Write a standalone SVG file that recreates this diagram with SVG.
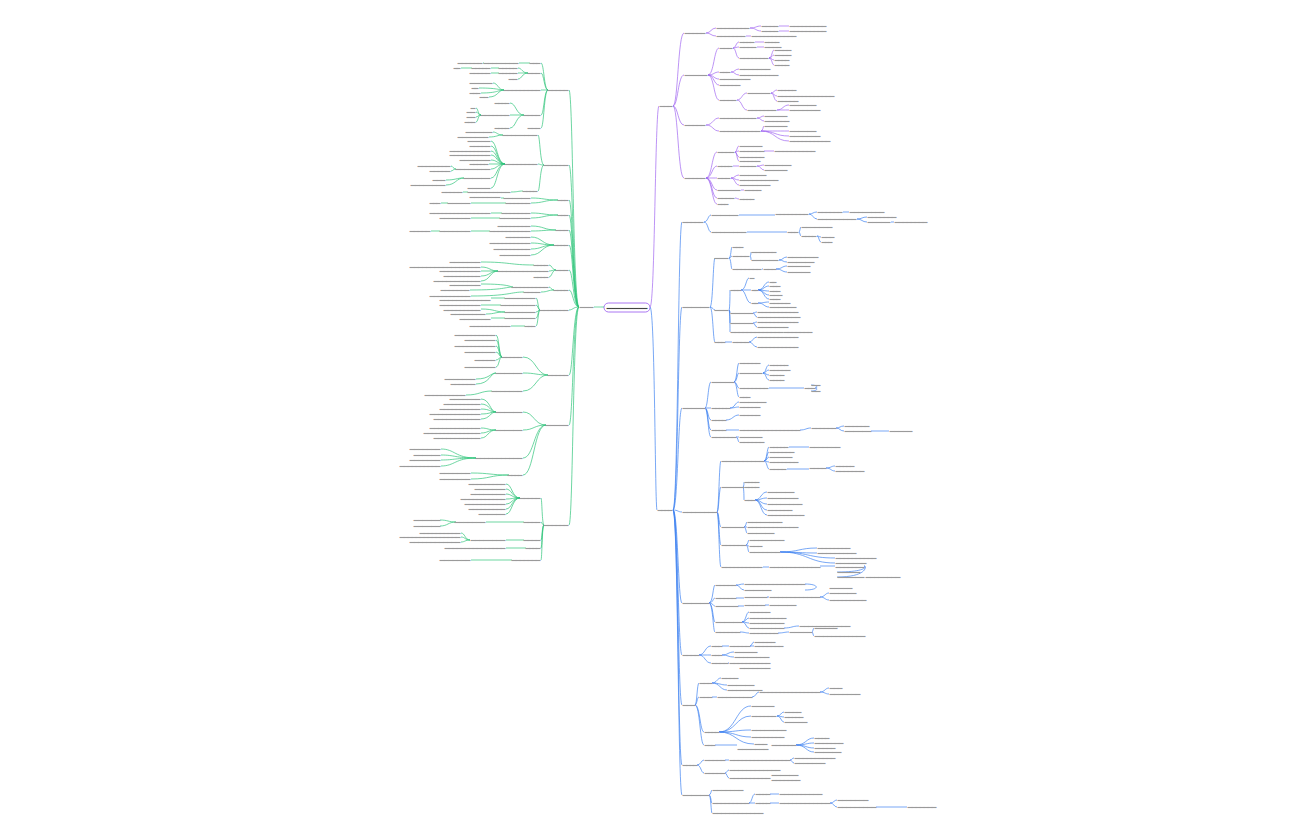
<svg xmlns="http://www.w3.org/2000/svg" width="1296" height="840" viewBox="0 0 1296 840">
<style>
path{fill:none;stroke-width:0.7}
.p path,path.p{stroke:#a066f0}
.b path,path.b{stroke:#3f83f0}
.g path,path.g{stroke:#2fc47a}
text{font-family:"Liberation Sans",sans-serif;font-size:4px;fill:#8a8a8a;stroke:#9a9a9a;stroke-width:0.9}
.l text{text-anchor:end}
</style>
<rect width="1296" height="840" fill="#fff"/>
<g id="center"><rect x="604" y="303" width="46" height="9" rx="4.5" fill="#fff" stroke="#a066f0" stroke-width="0.9"/><text x="627" y="309" text-anchor="middle" textLength="40" style="fill:#333;stroke:#444">—————————</text></g>
<g id="connectors">
<path class="p" d="M650 307 C655 307 655 106 659 106"/>
<path class="b" d="M650 307 C655 307 655 510 657 510"/>
<path class="g" d="M604 307 C598 307 598 307 594 307"/>
<g class="p">
<path d="M673 106C678 106 678 33 684 33M673 106C678 106 678 75 684 75M673 106C678 106 678 125 684 125M673 106C678 106 678 178 684 178"/>
<path d="M706 33C711 33 711 28 716 28M706 33C711 33 711 36 716 36M750 28C756 28 756 26 761 26M750 28C756 28 756 31 761 31M779 26H789M779 31H789M746 36H751"/>
<path d="M708 75C714 75 714 48 719 48M708 75C714 75 714 72 719 72M708 75C714 75 714 79 719 79M708 75C714 75 714 85 719 85M708 75C714 75 714 100 719 100"/>
<path d="M733 48C736 48 736 42 739 42M733 48C736 48 736 47 739 47M733 48C736 48 736 58 739 58M755 42H764M757 47H764M769 58C772 58 772 50 774 50M769 58C772 58 772 55 774 55M769 58C772 58 772 60 774 60M769 58C772 58 772 65 774 65"/>
<path d="M731 72C735 72 735 69 739 69M731 72C735 72 735 75 739 75M737 100C742 100 742 93 747 93M737 100C742 100 742 110 747 110M771 93C774 93 774 90 777 90M771 93C774 93 774 96 777 96M771 93C774 93 774 101 777 101M777 110C783 110 783 105 789 105M777 110C783 110 783 110 789 110"/>
<path d="M706 125C713 125 713 118 719 118M706 125C713 125 713 131 719 131M757 118C761 118 761 116 764 116M757 118C761 118 761 121 764 121M761 131C763 131 763 126 764 126M761 131C775 131 775 131 789 131M761 131C775 131 775 136 789 136M761 131C775 131 775 141 789 141"/>
<path d="M706 178C712 178 712 152 717 152M706 178C712 178 712 166 717 166M706 178C712 178 712 178 717 178M706 178C712 178 712 190 717 190M706 178C712 178 712 198 717 198M706 178C712 178 712 204 717 204"/>
<path d="M735 152C737 152 737 146 739 146M735 152C737 152 737 151 739 151M735 152C737 152 737 157 739 157M735 152C737 152 737 161 739 161M764 151H774M733 166H739M757 166C761 166 761 165 764 165M757 166C761 166 761 170 764 170M731 178C735 178 735 175 739 175M731 178C735 178 735 180 739 180M731 178C735 178 735 185 739 185M741 190H744M735 198C737 198 737 199 739 199"/>
</g>
<g class="b">
<path d="M673 510C678 510 678 222 682 222M673 510C678 510 678 307 682 307M673 510C678 510 678 408 682 408M673 510C678 510 678 512 682 512M673 510C678 510 678 603 682 603M673 510C678 510 678 655 682 655M673 510C678 510 678 705 682 705M673 510C678 510 678 765 682 765M673 510C678 510 678 795 682 795"/>
<path d="M704 222C708 222 708 215 711 215M704 222C708 222 708 232 711 232M739 215H775M809 214C813 214 813 212 817 212M809 214C813 214 813 219 817 219M843 212H849M857 219C862 219 862 217 867 217M857 219C862 219 862 222 867 222M891 222H894M747 232H787M799 232C800 232 800 227 801 227M799 232C800 232 800 236 801 236M817 236C819 236 819 237 821 237M817 236C819 236 819 242 821 242"/>
<path d="M710 307C713 307 713 258 715 258M710 307C713 307 713 310 715 310M710 307C713 307 713 342 715 342"/>
<path d="M729 258C731 258 731 247 732 247M729 258C731 258 731 256 732 256M729 258C731 258 731 269 732 269M750 256C751 256 751 252 751 252M750 256C751 256 751 260 751 260M779 260C783 260 783 257 787 257M779 260C783 260 783 262 787 262M762 269H763M776 269C782 269 782 266 787 266M776 269C782 269 782 272 787 272"/>
<path d="M729 310C730 310 730 290 730 290M729 310C730 310 730 313 730 313M729 310C730 310 730 323 730 323M729 310C730 310 730 332 730 332M741 290C746 290 746 278 749 278M741 290C746 290 746 290 751 290M741 290C746 290 746 303 751 303M758 290C764 290 764 282 769 282M758 290C764 290 764 286 769 286M758 290C764 290 764 291 769 291M758 290C764 290 764 295 769 295M758 290C764 290 764 299 769 299M758 303C764 303 764 302 769 302M758 303C764 303 764 307 769 307"/>
<path d="M753 313C755 313 755 312 757 312M753 313C755 313 755 317 757 317M753 323C755 323 755 322 757 322M753 323C755 323 755 327 757 327M725 342H732M749 342C753 342 753 337 757 337M749 342C753 342 753 347 757 347"/>
<path d="M705 408C708 408 708 382 711 382M705 408C708 408 708 408 711 408M705 408C708 408 708 420 711 420M705 408C708 408 708 430 711 430M705 408C708 408 708 437 711 437"/>
<path d="M734 382C737 382 737 363 739 363M734 382C737 382 737 373 739 373M734 382C737 382 737 388 739 388M734 382C737 382 737 397 739 397M763 373C766 373 766 365 769 365M763 373C766 373 766 370 769 370M763 373C766 373 766 375 769 375M763 373C766 373 766 380 769 380M769 388H804M815 388C818 388 818 385 811 385M815 388C818 388 818 391 811 391"/>
<path d="M730 408C735 408 735 402 739 402M730 408C735 408 735 407 739 407M726 420C733 420 733 415 739 415M726 430H739M800 430C806 430 806 428 811 428M836 428C840 428 840 426 844 426M836 428C840 428 840 431 844 431M871 431H889M736 437C738 437 738 437 739 437M736 437C738 437 738 442 739 442"/>
<path d="M717 512C719 512 719 461 721 461M717 512C719 512 719 487 721 487M717 512C719 512 719 527 721 527M717 512C719 512 719 545 721 545M717 512C719 512 719 567 721 567"/>
<path d="M764 461C767 461 767 447 769 447M764 461C767 461 767 452 769 452M764 461C767 461 767 457 769 457M764 461C767 461 767 462 769 462M764 461C767 461 767 469 769 469M789 447H809M787 469H809M826 468C831 468 831 466 835 466M826 468C831 468 831 471 835 471"/>
<path d="M743 487C744 487 744 482 744 482M743 487H744M743 487C744 487 744 500 744 500M755 500C761 500 761 492 767 492M755 500C761 500 761 498 767 498M755 500C761 500 761 504 767 504M755 500C761 500 761 510 767 510M755 500C761 500 761 515 767 515"/>
<path d="M744 527C746 527 746 522 747 522M744 527H747M744 527C746 527 746 533 747 533M746 545C748 545 748 540 749 540M746 545C748 545 748 546 749 546M746 545C748 545 748 552 749 552M780 552C799 552 799 548 817 548M780 552C799 552 799 553 817 553M780 552C808 552 808 558 835 558M780 552C808 552 808 563 835 563"/>
<path d="M763 567H769M820 566H835M864 566C867 566 867 572 837 572M864 566C867 566 867 577 837 577"/>
<path d="M709 603C713 603 713 585 715 585M709 603C713 603 713 598 715 598M709 603C713 603 713 606 715 606M709 603C713 603 713 622 715 622M709 603C713 603 713 632 715 632"/>
<path d="M736 585C740 585 740 584 744 584M736 585C740 585 740 590 744 590M805 584C820 584 820 590 805 590M736 598H744M767 597H769M820 597C825 597 825 593 829 593M820 597C825 597 825 600 829 600M738 606H744M765 605H769"/>
<path d="M742 622C746 622 746 612 749 612M742 622C746 622 746 618 749 618M742 622C746 622 746 623 749 623M742 622C746 622 746 628 749 628M784 628C792 628 792 626 799 626M740 632C745 632 745 633 749 633M778 633C784 633 784 632 789 632M812 632C813 632 813 628 814 628M812 632C813 632 813 636 814 636"/>
<path d="M699 655C705 655 705 646 711 646M699 655C705 655 705 655 711 655M699 655C705 655 705 663 711 663M722 646H729M750 646C752 646 752 642 754 642M750 646C752 646 752 646 754 646M722 655C728 655 728 652 734 652M722 655C728 655 728 657 734 657M728 663H729"/>
<path d="M695 705C697 705 697 683 699 683M695 705C697 705 697 697 699 697M695 705C700 705 700 732 704 732M695 705C700 705 700 745 704 745"/>
<path d="M712 683C717 683 717 678 721 678M712 683C720 683 720 685 727 685M712 683C720 683 720 690 727 690M712 697H717M752 697C756 697 756 692 759 692M820 692C825 692 825 688 829 688M820 692C825 692 825 694 829 694"/>
<path d="M719 732C736 732 736 706 751 706M719 732C736 732 736 716 751 716M719 732C736 732 736 730 751 730M719 732C736 732 736 737 751 737M719 732C736 732 736 744 754 744M777 716C781 716 781 712 784 712M777 716C781 716 781 717 784 717M777 716C781 716 781 722 784 722"/>
<path d="M715 745H737M796 745C806 745 806 738 814 738M796 745C806 745 806 743 814 743M796 745C806 745 806 748 814 748M796 745C806 745 806 752 814 752"/>
<path d="M697 765C701 765 701 760 704 760M697 765C701 765 701 773 704 773M725 760H729M790 760C792 760 792 758 794 758M790 760C792 760 792 763 794 763M725 773C727 773 727 770 729 770M725 773C727 773 727 778 729 778"/>
<path d="M709 795C711 795 711 790 712 790M709 795C711 795 711 803 712 803M709 795C711 795 711 813 712 813M749 803C752 803 752 794 755 794M749 803C752 803 752 803 755 803M770 794H779M770 803H779M830 803C834 803 834 800 837 800M830 803C834 803 834 807 837 807M876 807H907"/>
</g>
<g class="g">
<path d="M579 307C573 307 573 90 569 90M579 307C573 307 573 165 569 165M579 307C573 307 573 200 569 200M579 307C573 307 573 215 569 215M579 307C573 307 573 230 569 230M579 307C573 307 573 245 569 245M579 307C573 307 573 270 569 270M579 307C573 307 573 290 569 290M579 307C573 307 573 310 569 310M579 307C573 307 573 375 569 375M579 307C573 307 573 425 569 425M579 307C573 307 573 525 569 525"/>
<path d="M548 90C544 90 544 63 541 63M548 90C544 90 544 73 541 73M548 90C544 90 544 90 541 90M548 90C544 90 544 115 541 115M548 90C544 90 544 128 541 128M530 63H519M484 63H483M528 73C522 73 522 68 518 68M528 73C522 73 522 73 518 73M528 73C522 73 522 79 518 79M499 68H491M472 68H461M499 73H491"/>
<path d="M504 90C498 90 498 83 493 83M504 90C498 90 498 88 479 88M504 90C498 90 498 93 481 93M504 90C498 90 498 97 489 97M524 115C516 115 516 103 510 103M524 115H510M524 115C516 115 516 128 510 128M481 115C478 115 478 108 476 108M481 115C478 115 478 112 476 112M481 115C478 115 478 117 476 117M481 115C478 115 478 122 476 122"/>
<path d="M544 165C540 165 540 135 538 135M544 165C540 165 540 164 538 164M544 165C540 165 540 191 538 191M503 135C497 135 497 132 493 132M503 135C497 135 497 137 489 137"/>
<path d="M505 164C497 164 497 141 491 141M505 164C497 164 497 146 491 146M505 164C497 164 497 151 491 151M505 164C497 164 497 155 491 155M505 164C497 164 497 160 491 160M505 164H489M505 164C497 164 497 169 491 169M505 164C497 164 497 178 491 178M505 164C497 164 497 188 491 188M456 169C453 169 453 166 451 166M456 169C453 169 453 171 451 171M464 178C456 178 456 180 446 180M464 178C456 178 456 185 446 185M523 191C518 191 518 192 511 192M468 192H463"/>
<path d="M558 200C544 200 544 198 531 198M558 200C544 200 544 203 531 203M504 198H501M506 203H471M448 203H441"/>
<path d="M558 215C544 215 544 213 531 213M558 215C544 215 544 218 531 218M502 213H491M500 218H471"/>
<path d="M556 230C544 230 544 226 531 226M556 230C544 230 544 231 531 231M490 231H471M440 231H431"/>
<path d="M554 245C542 245 542 237 531 237M554 245C542 245 542 243 531 243M554 245C542 245 542 249 531 249M554 245C542 245 542 255 531 255"/>
<path d="M556 270C552 270 552 265 549 265M556 270C552 270 552 271 549 271M556 270C552 270 552 277 549 277M534 265C510 265 510 262 481 262M498 271C490 271 490 267 481 267M498 271H481M498 271C490 271 490 276 481 276M498 271C490 271 490 281 481 281"/>
<path d="M554 290C551 290 551 287 549 287M554 290C548 290 548 292 541 292M513 287C510 287 510 284 481 284M513 287C505 287 505 290 470 290M524 292C510 292 510 296 471 296"/>
<path d="M540 310C538 310 538 298 536 298M540 310C538 310 538 305 536 305M540 310C538 310 538 312 536 312M540 310C538 310 538 318 536 318M540 310C538 310 538 326 536 326M505 298H491M501 305H481M505 312C495 312 495 309 481 309M505 312C495 312 495 314 486 314M505 318H491M525 326H511"/>
<path d="M548 375C536 375 536 357 523 357M548 375C536 375 536 373 523 373M548 375C536 375 536 391 523 391M502 357C499 357 499 335 496 335M502 357C499 357 499 340 496 340M502 357C499 357 499 346 496 346M502 357C499 357 499 352 496 352M502 357C499 357 499 360 496 360M502 357C499 357 499 367 496 367M496 373C490 373 490 379 476 379M496 373C490 373 490 384 476 384M492 391C480 391 480 395 466 395"/>
<path d="M546 425C534 425 534 412 523 412M546 425C534 425 534 430 523 430M546 425C534 425 534 458 523 458M546 425C534 425 534 475 523 475M496 412C490 412 490 399 481 399M496 412C490 412 490 404 481 404M496 412C490 412 490 409 481 409M496 412C490 412 490 414 481 414M496 412C490 412 490 419 481 419M496 430C488 430 488 428 481 428M496 430C488 430 488 433 481 433M496 430C488 430 488 438 481 438M476 458C455 458 455 449 441 449M476 458C455 458 455 455 441 455M476 458C455 458 455 460 441 460M476 458C455 458 455 466 441 466M509 475C490 475 490 473 471 473M509 475C490 475 490 479 471 479"/>
<path d="M544 525C542 525 542 498 541 498M544 525C542 525 542 522 541 522M544 525C542 525 542 540 541 540M544 525C542 525 542 548 541 548M544 525C542 525 542 560 541 560M520 498C512 498 512 484 506 484M520 498C512 498 512 489 506 489M520 498C512 498 512 494 506 494M520 498C512 498 512 499 506 499M520 498C512 498 512 504 506 504M520 498C512 498 512 509 506 509M520 498C512 498 512 514 506 514M524 522H486M456 522C448 522 448 520 440 520M456 522C448 522 448 526 440 526M524 540H506M470 540C465 540 465 533 461 533M470 540C465 540 465 537 461 537M470 540C465 540 465 542 461 542M526 548H506M512 560H471"/>
</g>
</g>
<g id="branch-purple">
<text x="660" y="107.4" textLength="12">———</text>
<text x="685" y="34.4" textLength="20">—————</text><text x="685" y="76.4" textLength="22">—————</text><text x="685" y="126.4" textLength="20">—————</text><text x="685" y="179.4" textLength="20">—————</text>
<text x="717" y="29.4" textLength="32">————————</text><text x="717" y="37.4" textLength="28">———————</text>
<text x="762" y="27.4" textLength="16">————</text><text x="762" y="32.4" textLength="16">————</text><text x="790" y="27.4" textLength="36">—————————</text><text x="790" y="32.4" textLength="36">—————————</text><text x="752" y="37.4" textLength="44">———————————</text>
<text x="720" y="49.4" textLength="12">———</text><text x="720" y="73.4" textLength="10">———</text><text x="720" y="80.4" textLength="30">———————</text><text x="720" y="86.4" textLength="20">—————</text><text x="720" y="101.4" textLength="16">————</text>
<text x="740" y="43.4" textLength="14">————</text><text x="740" y="48.4" textLength="16">————</text><text x="740" y="59.4" textLength="28">———————</text><text x="765" y="43.4" textLength="14">————</text><text x="765" y="48.4" textLength="16">————</text>
<text x="775" y="51.4" textLength="16">————</text><text x="775" y="56.4" textLength="16">————</text><text x="775" y="61.4" textLength="14">————</text><text x="775" y="66.4" textLength="14">————</text>
<text x="740" y="70.4" textLength="30">———————</text><text x="740" y="76.4" textLength="38">—————————</text>
<text x="748" y="94.4" textLength="22">—————</text><text x="748" y="111.4" textLength="28">———————</text><text x="778" y="91.4" textLength="18">—————</text><text x="778" y="97.4" textLength="56">——————————————</text><text x="778" y="102.4" textLength="20">—————</text><text x="790" y="106.4" textLength="26">——————</text><text x="790" y="111.4" textLength="30">———————</text>
<text x="720" y="119.4" textLength="36">—————————</text><text x="720" y="132.4" textLength="40">——————————</text><text x="765" y="117.4" textLength="22">—————</text><text x="765" y="122.4" textLength="24">——————</text><text x="765" y="127.4" textLength="22">—————</text>
<text x="790" y="132.4" textLength="26">——————</text><text x="790" y="137.4" textLength="30">———————</text><text x="790" y="142.4" textLength="40">——————————</text>
<text x="718" y="153.4" textLength="16">————</text><text x="718" y="167.4" textLength="14">————</text><text x="718" y="179.4" textLength="12">———</text><text x="718" y="191.4" textLength="22">—————</text><text x="718" y="199.4" textLength="16">————</text><text x="718" y="205.4" textLength="10">———</text>
<text x="740" y="147.4" textLength="22">—————</text><text x="740" y="152.4" textLength="24">——————</text><text x="740" y="158.4" textLength="24">——————</text><text x="740" y="162.4" textLength="20">—————</text><text x="775" y="152.4" textLength="40">——————————</text>
<text x="740" y="167.4" textLength="16">————</text><text x="765" y="166.4" textLength="26">——————</text><text x="765" y="171.4" textLength="22">—————</text>
<text x="740" y="176.4" textLength="26">——————</text><text x="740" y="181.4" textLength="38">—————————</text><text x="740" y="186.4" textLength="30">———————</text><text x="745" y="191.4" textLength="16">————</text><text x="740" y="200.4" textLength="14">————</text>
</g>
<g id="branch-blue">
<text x="658" y="511.4" textLength="14">————</text>
<text x="683" y="223.4" textLength="20">—————</text><text x="683" y="308.4" textLength="26">——————</text><text x="683" y="409.4" textLength="22">—————</text><text x="683" y="513.4" textLength="34">————————</text><text x="683" y="604.4" textLength="26">——————</text><text x="683" y="656.4" textLength="16">————</text><text x="683" y="706.4" textLength="12">———</text><text x="683" y="766.4" textLength="14">————</text><text x="683" y="796.4" textLength="26">——————</text>
<text x="712" y="216.4" textLength="26">——————</text><text x="712" y="233.4" textLength="34">————————</text><text x="776" y="215.4" textLength="32">————————</text><text x="818" y="213.4" textLength="24">——————</text><text x="818" y="220.4" textLength="38">—————————</text><text x="850" y="213.4" textLength="34">————————</text><text x="868" y="218.4" textLength="28">———————</text><text x="868" y="223.4" textLength="22">—————</text><text x="895" y="223.4" textLength="32">————————</text>
<text x="788" y="233.4" textLength="10">———</text><text x="802" y="228.4" textLength="30">———————</text><text x="802" y="237.4" textLength="14">————</text><text x="822" y="238.4" textLength="12">———</text><text x="822" y="243.4" textLength="10">———</text>
<text x="715" y="259.4" textLength="13">———</text><text x="715" y="311.4" textLength="13">———</text><text x="715" y="343.4" textLength="10">———</text>
<text x="733" y="248.4" textLength="10">———</text><text x="733" y="257.4" textLength="16">————</text><text x="733" y="270.4" textLength="28">———————</text><text x="752" y="253.4" textLength="24">——————</text><text x="752" y="261.4" textLength="26">——————</text><text x="788" y="258.4" textLength="30">———————</text><text x="788" y="263.4" textLength="26">——————</text><text x="764" y="270.4" textLength="12">———</text><text x="788" y="267.4" textLength="22">—————</text><text x="788" y="273.4" textLength="22">—————</text>
<text x="731" y="291.4" textLength="10">———</text><text x="731" y="314.4" textLength="22">—————</text><text x="731" y="324.4" textLength="22">—————</text><text x="731" y="333.4" textLength="52">—————————————</text>
<text x="750" y="279.4" textLength="4">—</text><text x="752" y="291.4" textLength="6">——</text><text x="752" y="304.4" textLength="6">——</text><text x="770" y="283.4" textLength="6">——</text><text x="770" y="287.4" textLength="10">———</text><text x="770" y="292.4" textLength="10">———</text><text x="770" y="296.4" textLength="12">———</text><text x="770" y="300.4" textLength="10">———</text><text x="770" y="303.8" textLength="20">—————</text><text x="770" y="308.4" textLength="26">——————</text>
<text x="758" y="313.4" textLength="40">——————————</text><text x="758" y="318.4" textLength="42">——————————</text><text x="758" y="323.4" textLength="40">——————————</text><text x="758" y="328.4" textLength="30">———————</text><text x="784" y="333.4" textLength="28">———————</text>
<text x="733" y="343.4" textLength="16">————</text><text x="758" y="338.4" textLength="40">——————————</text><text x="758" y="348.4" textLength="40">——————————</text>
<text x="712" y="383.4" textLength="22">—————</text><text x="712" y="409.4" textLength="18">—————</text><text x="712" y="421.4" textLength="14">————</text><text x="712" y="431.4" textLength="14">————</text><text x="712" y="438.4" textLength="24">——————</text>
<text x="740" y="364.4" textLength="20">—————</text><text x="740" y="374.4" textLength="22">—————</text><text x="740" y="389.4" textLength="28">———————</text><text x="740" y="398.4" textLength="10">———</text><text x="770" y="366.4" textLength="18">—————</text><text x="770" y="371.4" textLength="20">—————</text><text x="770" y="376.4" textLength="14">————</text><text x="770" y="381.4" textLength="14">————</text><text x="805" y="389.4" textLength="10">———</text><text x="812" y="386.4" textLength="8">——</text><text x="812" y="392.4" textLength="8">——</text>
<text x="740" y="403.4" textLength="26">——————</text><text x="740" y="408.4" textLength="20">—————</text><text x="740" y="416.4" textLength="20">—————</text><text x="740" y="431.4" textLength="60">———————————————</text><text x="812" y="429.4" textLength="24">——————</text><text x="845" y="427.4" textLength="24">——————</text><text x="845" y="432.4" textLength="26">——————</text><text x="890" y="432.4" textLength="22">—————</text><text x="740" y="438.4" textLength="22">—————</text><text x="740" y="443.4" textLength="24">——————</text>
<text x="722" y="462.4" textLength="42">——————————</text><text x="722" y="488.4" textLength="22">—————</text><text x="722" y="528.4" textLength="22">—————</text><text x="722" y="546.4" textLength="24">——————</text><text x="722" y="568.4" textLength="40">——————————</text>
<text x="770" y="448.4" textLength="18">—————</text><text x="770" y="453.4" textLength="24">——————</text><text x="770" y="458.4" textLength="22">—————</text><text x="770" y="463.4" textLength="28">———————</text><text x="770" y="470.4" textLength="16">————</text><text x="810" y="448.4" textLength="30">———————</text><text x="810" y="469.4" textLength="16">————</text><text x="836" y="467.4" textLength="18">—————</text><text x="836" y="472.4" textLength="28">———————</text>
<text x="745" y="483.4" textLength="14">————</text><text x="745" y="488.4" textLength="14">————</text><text x="745" y="501.4" textLength="10">———</text><text x="768" y="493.4" textLength="26">——————</text><text x="768" y="499.4" textLength="30">———————</text><text x="768" y="505.4" textLength="34">————————</text><text x="768" y="511.4" textLength="24">——————</text><text x="768" y="516.4" textLength="36">—————————</text>
<text x="748" y="523.4" textLength="34">————————</text><text x="748" y="528.4" textLength="50">————————————</text><text x="748" y="534.4" textLength="26">——————</text><text x="750" y="541.4" textLength="34">————————</text><text x="750" y="547.4" textLength="12">———</text><text x="750" y="553.4" textLength="30">———————</text>
<text x="818" y="549.4" textLength="32">————————</text><text x="818" y="554.4" textLength="38">—————————</text><text x="836" y="559.4" textLength="40">——————————</text><text x="836" y="564.4" textLength="30">———————</text>
<text x="770" y="568.4" textLength="50">————————————</text><text x="836" y="567.8" textLength="28">———————</text><text x="838" y="573.4" textLength="22">—————</text><text x="838" y="578.4" textLength="26">——————</text><text x="866" y="578.4" textLength="34">————————</text>
<text x="716" y="586.4" textLength="20">—————</text><text x="716" y="599.4" textLength="20">—————</text><text x="716" y="607.4" textLength="22">—————</text><text x="716" y="623.4" textLength="26">——————</text><text x="716" y="633.4" textLength="24">——————</text>
<text x="745" y="585.4" textLength="60">———————————————</text><text x="745" y="591.4" textLength="26">——————</text><text x="830" y="589.4" textLength="22">—————</text><text x="745" y="598.4" textLength="22">—————</text><text x="770" y="598.4" textLength="50">————————————</text><text x="830" y="594.4" textLength="26">——————</text><text x="830" y="601.4" textLength="36">—————————</text><text x="745" y="606.4" textLength="20">—————</text><text x="770" y="606.4" textLength="26">——————</text>
<text x="750" y="613.4" textLength="20">—————</text><text x="750" y="619.4" textLength="36">—————————</text><text x="750" y="624.4" textLength="34">————————</text><text x="750" y="629.4" textLength="34">————————</text><text x="800" y="627.4" textLength="50">————————————</text><text x="750" y="634.4" textLength="28">———————</text><text x="790" y="633.4" textLength="22">—————</text><text x="815" y="629.4" textLength="22">—————</text><text x="815" y="637.4" textLength="50">————————————</text>
<text x="712" y="647.4" textLength="10">———</text><text x="712" y="656.4" textLength="10">———</text><text x="712" y="664.4" textLength="16">————</text><text x="730" y="647.4" textLength="20">—————</text><text x="755" y="643.4" textLength="20">—————</text><text x="755" y="647.4" textLength="28">———————</text><text x="735" y="653.4" textLength="22">—————</text><text x="735" y="658.4" textLength="34">————————</text><text x="730" y="664.4" textLength="40">——————————</text><text x="740" y="669.4" textLength="30">———————</text>
<text x="700" y="684.4" textLength="12">———</text><text x="700" y="698.4" textLength="12">———</text><text x="705" y="733.4" textLength="14">————</text><text x="705" y="746.4" textLength="10">———</text>
<text x="722" y="679.4" textLength="16">————</text><text x="728" y="686.4" textLength="26">——————</text><text x="728" y="691.4" textLength="34">————————</text><text x="718" y="698.4" textLength="34">————————</text><text x="760" y="693.4" textLength="60">———————————————</text><text x="830" y="689.4" textLength="12">———</text><text x="830" y="695.4" textLength="30">———————</text>
<text x="752" y="707.4" textLength="22">—————</text><text x="752" y="717.4" textLength="24">——————</text><text x="752" y="731.4" textLength="34">————————</text><text x="752" y="738.4" textLength="32">————————</text><text x="755" y="745.4" textLength="12">———</text><text x="785" y="713.4" textLength="16">————</text><text x="785" y="718.4" textLength="18">—————</text><text x="785" y="723.4" textLength="22">—————</text>
<text x="738" y="750.4" textLength="30">———————</text><text x="772" y="746.4" textLength="24">——————</text><text x="815" y="739.4" textLength="14">————</text><text x="815" y="744.4" textLength="28">———————</text><text x="815" y="749.4" textLength="20">—————</text><text x="815" y="753.4" textLength="26">——————</text>
<text x="705" y="761.4" textLength="20">—————</text><text x="705" y="774.4" textLength="20">—————</text><text x="730" y="761.4" textLength="60">———————————————</text><text x="795" y="759.4" textLength="40">——————————</text><text x="795" y="764.4" textLength="30">———————</text><text x="730" y="771.4" textLength="50">————————————</text><text x="730" y="779.4" textLength="40">——————————</text><text x="772" y="776.4" textLength="26">——————</text><text x="772" y="781.4" textLength="28">———————</text>
<text x="713" y="791.4" textLength="30">———————</text><text x="713" y="804.4" textLength="36">—————————</text><text x="713" y="814.4" textLength="50">————————————</text><text x="756" y="795.4" textLength="14">————</text><text x="756" y="804.4" textLength="14">————</text><text x="780" y="795.4" textLength="42">——————————</text><text x="780" y="804.4" textLength="50">————————————</text><text x="838" y="801.4" textLength="30">———————</text><text x="838" y="808.4" textLength="38">—————————</text><text x="908" y="808.4" textLength="28">———————</text>
</g>
<g id="branch-green">
<text x="580" y="308.4" textLength="13">———</text>
<g class="l">
<text x="568" y="91.4" textLength="20">—————</text><text x="568" y="166.4" textLength="24">——————</text><text x="568" y="201.4" textLength="10">———</text><text x="568" y="216.4" textLength="10">———</text><text x="568" y="231.4" textLength="12">———</text><text x="568" y="246.4" textLength="14">————</text><text x="568" y="271.4" textLength="12">———</text><text x="568" y="291.4" textLength="14">————</text><text x="568" y="311.4" textLength="28">———————</text><text x="568" y="376.4" textLength="20">—————</text><text x="568" y="426.4" textLength="22">—————</text><text x="568" y="526.4" textLength="24">——————</text>
<text x="540" y="64.4" textLength="10">———</text><text x="518" y="64.4" textLength="34">————————</text><text x="482" y="64.4" textLength="24">——————</text><text x="540" y="74.4" textLength="12">———</text><text x="517" y="69.4" textLength="18">—————</text><text x="517" y="74.4" textLength="18">—————</text><text x="517" y="80.4" textLength="8">——</text><text x="490" y="69.4" textLength="18">—————</text><text x="460" y="69.4" textLength="6">——</text><text x="490" y="74.4" textLength="20">—————</text>
<text x="540" y="91.4" textLength="36">—————————</text><text x="492" y="84.4" textLength="22">—————</text><text x="478" y="89.4" textLength="6">——</text><text x="480" y="94.4" textLength="10">———</text><text x="488" y="98.4" textLength="8">——</text>
<text x="540" y="116.4" textLength="16">————</text><text x="540" y="129.4" textLength="12">———</text><text x="509" y="104.4" textLength="14">————</text><text x="509" y="116.4" textLength="28">———————</text><text x="509" y="129.4" textLength="14">————</text><text x="475" y="109.4" textLength="4">—</text><text x="475" y="113.4" textLength="8">——</text><text x="475" y="118.4" textLength="8">——</text><text x="475" y="123.4" textLength="10">———</text>
<text x="537" y="136.4" textLength="34">————————</text><text x="537" y="165.4" textLength="32">————————</text><text x="537" y="192.4" textLength="14">————</text><text x="492" y="133.4" textLength="26">——————</text><text x="488" y="138.4" textLength="30">———————</text>
<text x="490" y="142.4" textLength="22">—————</text><text x="490" y="147.4" textLength="20">—————</text><text x="490" y="152.4" textLength="40">——————————</text><text x="490" y="156.4" textLength="40">——————————</text><text x="490" y="161.4" textLength="30">———————</text><text x="488" y="165.4" textLength="18">—————</text><text x="490" y="170.4" textLength="34">————————</text><text x="490" y="179.4" textLength="26">——————</text><text x="490" y="189.4" textLength="22">—————</text>
<text x="450" y="167.4" textLength="32">————————</text><text x="450" y="172.4" textLength="20">—————</text><text x="445" y="181.4" textLength="12">———</text><text x="445" y="186.4" textLength="34">————————</text><text x="510" y="193.4" textLength="42">——————————</text><text x="462" y="193.4" textLength="20">—————</text>
<text x="530" y="199.4" textLength="26">——————</text><text x="530" y="204.4" textLength="24">——————</text><text x="500" y="198.4" textLength="30">———————</text><text x="470" y="204.4" textLength="22">—————</text><text x="440" y="204.4" textLength="10">———</text>
<text x="530" y="214.4" textLength="28">———————</text><text x="530" y="219.4" textLength="30">———————</text><text x="490" y="214.4" textLength="60">———————————————</text><text x="470" y="219.4" textLength="30">———————</text>
<text x="530" y="227.4" textLength="32">————————</text><text x="530" y="232.4" textLength="40">——————————</text><text x="470" y="232.4" textLength="30">———————</text><text x="430" y="232.4" textLength="20">—————</text>
<text x="530" y="238.4" textLength="24">——————</text><text x="530" y="244.4" textLength="40">——————————</text><text x="530" y="250.4" textLength="36">—————————</text><text x="530" y="256.4" textLength="30">———————</text>
<text x="548" y="266.4" textLength="14">————</text><text x="548" y="272.4" textLength="50">————————————</text><text x="548" y="278.4" textLength="14">————</text><text x="480" y="263.4" textLength="30">———————</text><text x="480" y="268.4" textLength="70">—————————————————</text><text x="480" y="272.4" textLength="40">——————————</text><text x="480" y="277.4" textLength="36">—————————</text><text x="480" y="282.4" textLength="46">———————————</text>
<text x="548" y="288.4" textLength="36">—————————</text><text x="540" y="293.4" textLength="16">————</text><text x="480" y="285.8" textLength="30">———————</text><text x="469" y="291.4" textLength="28">———————</text><text x="470" y="297.4" textLength="40">——————————</text>
<text x="535" y="299.4" textLength="30">———————</text><text x="535" y="306.4" textLength="34">————————</text><text x="535" y="313.4" textLength="30">———————</text><text x="535" y="319.4" textLength="30">———————</text><text x="535" y="327.4" textLength="10">———</text>
<text x="490" y="301.4" textLength="50">————————————</text><text x="480" y="306.4" textLength="40">——————————</text><text x="480" y="310.6" textLength="36">—————————</text><text x="485" y="315.4" textLength="34">————————</text><text x="490" y="319.8" textLength="30">———————</text><text x="510" y="327.4" textLength="40">——————————</text>
<text x="522" y="358.4" textLength="20">—————</text><text x="522" y="374.4" textLength="26">——————</text><text x="522" y="392.4" textLength="30">———————</text>
<text x="495" y="336.4" textLength="40">——————————</text><text x="495" y="341.4" textLength="30">———————</text><text x="495" y="347.4" textLength="40">——————————</text><text x="495" y="353.4" textLength="30">———————</text><text x="495" y="361.4" textLength="20">—————</text><text x="495" y="368.4" textLength="30">———————</text>
<text x="475" y="380.4" textLength="30">———————</text><text x="475" y="385.4" textLength="24">——————</text><text x="465" y="396.4" textLength="40">——————————</text>
<text x="522" y="413.4" textLength="26">——————</text><text x="522" y="431.4" textLength="26">——————</text><text x="522" y="459.4" textLength="46">———————————</text><text x="522" y="476.4" textLength="14">————</text>
<text x="480" y="400.4" textLength="30">———————</text><text x="480" y="405.4" textLength="36">—————————</text><text x="480" y="410.4" textLength="40">——————————</text><text x="480" y="415.4" textLength="50">————————————</text><text x="480" y="420.4" textLength="46">———————————</text>
<text x="480" y="429.4" textLength="50">————————————</text><text x="480" y="434.4" textLength="56">——————————————</text><text x="480" y="439.4" textLength="46">———————————</text>
<text x="440" y="450.4" textLength="30">———————</text><text x="440" y="456.4" textLength="26">——————</text><text x="440" y="461.4" textLength="30">———————</text><text x="440" y="467.4" textLength="40">——————————</text>
<text x="470" y="474.4" textLength="30">———————</text><text x="470" y="480.4" textLength="30">———————</text>
<text x="540" y="499.4" textLength="20">—————</text><text x="540" y="523.4" textLength="16">————</text><text x="540" y="541.4" textLength="16">————</text><text x="540" y="549.4" textLength="14">————</text><text x="540" y="561.4" textLength="28">———————</text>
<text x="505" y="485.4" textLength="36">—————————</text><text x="505" y="490.4" textLength="30">———————</text><text x="505" y="495.4" textLength="34">————————</text><text x="505" y="500.4" textLength="44">———————————</text><text x="505" y="505.4" textLength="40">——————————</text><text x="505" y="510.4" textLength="36">—————————</text><text x="505" y="515.4" textLength="26">——————</text>
<text x="485" y="523.4" textLength="30">———————</text><text x="440" y="521.4" textLength="26">——————</text><text x="440" y="527.4" textLength="26">——————</text><text x="505" y="541.4" textLength="34">————————</text><text x="460" y="534.4" textLength="40">——————————</text><text x="460" y="538.4" textLength="60">———————————————</text><text x="460" y="543.4" textLength="50">————————————</text><text x="505" y="549.4" textLength="60">———————————————</text><text x="470" y="561.4" textLength="30">———————</text>
</g>
</g>
</svg>
